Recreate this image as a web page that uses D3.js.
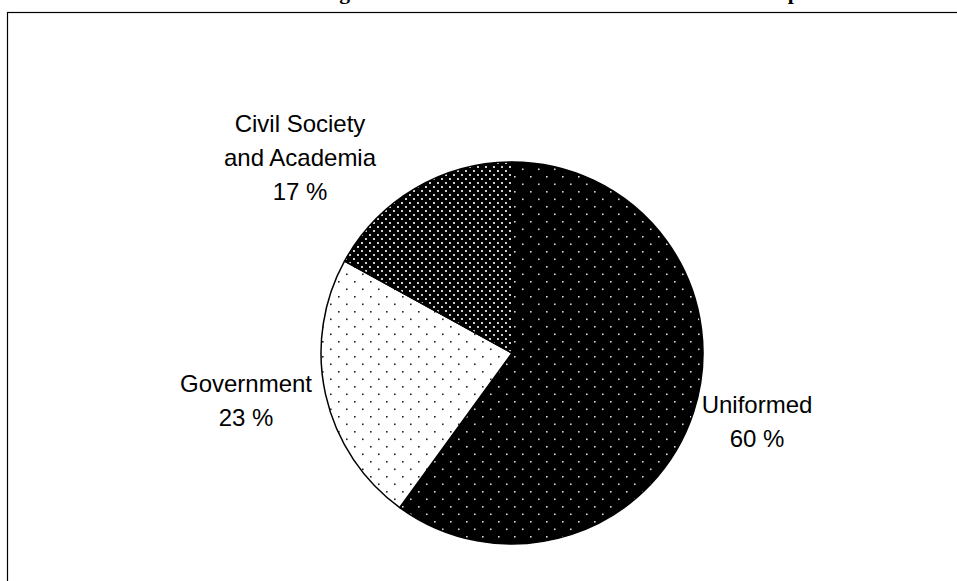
<!DOCTYPE html>
<html>
<head>
<meta charset="utf-8">
<script src="https://cdn.jsdelivr.net/npm/d3@7/dist/d3.min.js"></script>
<style>
  html, body { margin: 0; padding: 0; background: #fff; }
  svg { display: block; }
</style>
</head>
<body>
<svg id="chart" width="957" height="581"></svg>
<script>
// ---- data ----
const categories = ["Uniformed", "Government", "Civil Society and Academia"];
const values = [60, 23, 17];
const labelLines = [["Uniformed", "60 %"], ["Government", "23 %"], ["Civil Society", "and Academia", "17 %"]];
const patternIds = ["patUniformed", "patGovernment", "patCivil"];
const titleText = "Figure 5: Distribution of Attendees at the Workshop";

const svg = d3.select("#chart");
const W = 957, H = 581;
const cx = 512, cy = 353, R = 191;

// ---- patterns ----
const defs = svg.append("defs");
function dotPattern(id, w, h, bg, dot, pts, size) {
  const p = defs.append("pattern").attr("id", id).attr("patternUnits", "userSpaceOnUse")
    .attr("width", w).attr("height", h);
  p.append("rect").attr("width", w).attr("height", h).attr("fill", bg);
  pts.forEach(([x, y]) => p.append("rect").attr("x", x).attr("y", y)
    .attr("width", size).attr("height", size).attr("fill", dot));
}
dotPattern("patUniformed", 16, 15, "#000", "#d8d8d8", [[2, 3], [10, 10.5]], 1.6);
dotPattern("patGovernment", 16, 15, "#fff", "#222", [[2, 3], [10, 10.5]], 1.6);
dotPattern("patCivil", 8, 8, "#000", "#cfcfcf", [[1, 1], [5, 5]], 2);

// ---- frame ----
svg.append("rect").attr("x", 7.5).attr("y", 12.5).attr("width", W + 20).attr("height", H + 20)
  .attr("fill", "none").attr("stroke", "#000").attr("stroke-width", 1.2);

// ---- cut-off title ----
svg.append("text").attr("x", 320).attr("y", -1.5)
  .attr("font-family", "'Liberation Serif','Times New Roman',serif")
  .attr("font-weight", "bold").attr("font-size", 21.6).attr("fill", "#000")
  .text(titleText);

// ---- pie ----
const pie = d3.pie().sort(null).value(d => d)(values);
const arc = d3.arc().innerRadius(0).outerRadius(R);
const g = svg.append("g").attr("transform", `translate(${cx},${cy})`);
g.selectAll("path").data(pie).join("path")
  .attr("d", arc)
  .attr("fill", (d, i) => `url(#${patternIds[i]})`)
  .attr("stroke", "#000").attr("stroke-width", 1.5).attr("stroke-linejoin", "round");

// ---- labels ----
const labelPos = [[757, 413], [246, 392], [300, 132]];
const lineH = 34;
labelLines.forEach((lines, i) => {
  const t = svg.append("text")
    .attr("font-family", "'Liberation Sans', Arial, sans-serif")
    .attr("font-size", 24).attr("fill", "#000").attr("text-anchor", "middle");
  lines.forEach((ln, j) => t.append("tspan").attr("x", labelPos[i][0])
    .attr("y", labelPos[i][1] + j * lineH).text(ln));
});
</script>
</body>
</html>
